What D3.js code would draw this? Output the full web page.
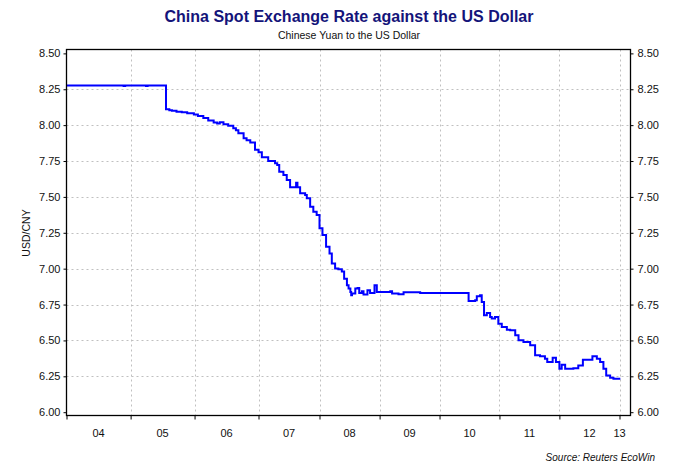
<html>
<head>
<script src="https://cdnjs.cloudflare.com/ajax/libs/d3/7.8.5/d3.min.js"></script>
<style>
body { margin: 0; background: #fff; }
svg { font-family: "Liberation Sans", Arial, sans-serif; }
</style>
</head>
<body>
<svg id="canvas" width="678" height="464"></svg>
<script>
// USD/CNY spot
var dates = [
  "2004-01-02","2004-11-20","2004-11-22","2004-12-01","2005-03-28","2005-03-30","2005-04-08","2005-07-21",
  "2005-07-22","2005-08-10","2005-08-25","2005-09-20","2005-10-20","2005-11-20","2005-12-28",
  "2006-01-20","2006-02-20","2006-03-20","2006-04-20","2006-05-10","2006-05-25","2006-06-15","2006-07-12",
  "2006-08-10","2006-08-25","2006-09-08","2006-10-08","2006-10-25","2006-11-15","2006-12-12",
  "2007-01-01","2007-01-21","2007-02-28","2007-04-10","2007-04-23","2007-05-05","2007-05-30","2007-06-19",
  "2007-07-09","2007-08-08","2007-08-14","2007-08-22","2007-09-07","2007-10-07","2007-10-17","2007-11-06",
  "2007-11-25","2007-12-15",
  "2008-01-01","2008-01-19","2008-02-10","2008-03-02","2008-03-16","2008-04-05","2008-04-25","2008-05-16",
  "2008-05-30","2008-06-16","2008-06-26","2008-07-07","2008-07-12","2008-07-17","2008-08-06","2008-08-20",
  "2008-08-30","2008-09-15","2008-09-25","2008-10-19","2008-11-04","2008-12-01","2008-12-15",
  "2009-01-05","2009-03-07","2009-03-18","2009-04-26","2009-05-27","2009-09-05",
  "2010-06-17","2010-06-27","2010-08-06","2010-08-16","2010-09-05","2010-09-15","2010-09-29","2010-10-16",
  "2010-11-05","2010-11-15","2010-12-05","2010-12-25",
  "2011-01-15","2011-02-15","2011-03-07","2011-04-07","2011-04-27","2011-05-27","2011-07-07","2011-08-06",
  "2011-09-05","2011-10-05","2011-10-19","2011-11-21","2011-12-11",
  "2012-01-01","2012-01-15","2012-02-05","2012-03-26","2012-04-25","2012-05-23","2012-06-26","2012-07-20",
  "2012-08-16","2012-09-05","2012-09-25","2012-10-12","2012-11-05","2012-11-25","2012-12-31"
];
var rates = [
  8.277,8.277,8.272,8.277,8.277,8.272,8.277,8.277,
  8.110,8.104,8.100,8.093,8.090,8.082,8.074,
  8.063,8.049,8.033,8.018,8.012,8.020,8.006,7.996,
  7.979,7.965,7.944,7.909,7.895,7.879,7.828,
  7.811,7.776,7.751,7.735,7.723,7.676,7.653,7.618,
  7.567,7.567,7.599,7.567,7.525,7.513,7.490,7.432,
  7.397,7.374,
  7.281,7.234,7.152,7.106,7.036,7.001,6.996,6.980,
  6.930,6.885,6.862,6.838,6.815,6.827,6.862,6.866,
  6.831,6.843,6.820,6.850,6.831,6.885,6.838,
  6.838,6.843,6.827,6.822,6.836,6.831,
  6.831,6.775,6.780,6.808,6.815,6.768,6.675,6.691,
  6.663,6.652,6.663,6.617,
  6.594,6.575,6.571,6.536,6.501,6.489,6.466,6.396,
  6.389,6.373,6.349,6.380,6.349,
  6.303,6.331,6.303,6.307,6.326,6.366,6.366,6.389,
  6.373,6.349,6.303,6.256,6.240,6.233,6.240
];
var yTicks = [6.00,6.25,6.50,6.75,7.00,7.25,7.50,7.75,8.00,8.25,8.50];
var years = [2004,2005,2006,2007,2008,2009,2010,2011,2012,2013];
var yearLabels = ["04","05","06","07","08","09","10","11","12","13"];

function draw() {
  var svg = d3.select("#canvas");
  var parse = d3.timeParse("%Y-%m-%d");
  var data = dates.map(function(d, i) { return { date: parse(d), v: rates[i] }; });

  var pl = 66.5, pr = 630.5, pt = 49.5, pb = 415.5;
  function yr(y) { return new Date(y, 0, 1); }

  // the source axis is not evenly spaced: early years are wider than later ones
  var x = d3.scaleTime()
      .domain([yr(2004), yr(2007), yr(2008), yr(2013), new Date(2013, 2, 10)])
      .range([pl, pl + 3 * 64, pl + 3 * 64 + 61, pl + 3 * 64 + 61 + 5 * 60, pr]);
  var y = d3.scaleLinear().domain([5.977, 8.527]).range([pb, pt]);

  // grid
  svg.append("g").selectAll("line")
      .data(yTicks.filter(function(t) { return t > 6 && t < 8.5; }))
      .enter().append("line")
      .attr("x1", pl).attr("x2", pr)
      .attr("y1", function(d) { return Math.round(y(d)) + 0.5; })
      .attr("y2", function(d) { return Math.round(y(d)) + 0.5; })
      .attr("stroke", "#c0c0c0").attr("stroke-dasharray", "2,3");
  svg.append("g").selectAll("line")
      .data(years.slice(1))
      .enter().append("line")
      .attr("x1", function(d) { return Math.round(x(yr(d))) + 0.5; })
      .attr("x2", function(d) { return Math.round(x(yr(d))) + 0.5; })
      .attr("y1", pt).attr("y2", pb)
      .attr("stroke", "#c0c0c0").attr("stroke-dasharray", "2,3");

  // series
  var line = d3.line()
      .x(function(d) { return x(d.date); })
      .y(function(d) { return y(d.v); })
      .curve(d3.curveStepAfter);
  svg.append("path").datum(data)
      .attr("d", line)
      .attr("fill", "none").attr("stroke", "#0000ff").attr("stroke-width", 2);

  // frame
  svg.append("rect")
      .attr("x", pl).attr("y", pt)
      .attr("width", pr - pl).attr("height", pb - pt)
      .attr("fill", "none").attr("stroke", "#000").attr("stroke-width", 1.3);

  // y axes, both sides
  var fmt = d3.format(".2f");
  var ya = svg.append("g").attr("transform", "translate(" + pl + ",0)")
      .call(d3.axisLeft(y).tickValues(yTicks).tickFormat(fmt).tickSize(3).tickPadding(3));
  var yb = svg.append("g").attr("transform", "translate(" + pr + ",0)")
      .call(d3.axisRight(y).tickValues(yTicks).tickFormat(fmt).tickSize(3).tickPadding(4));
  [ya, yb].forEach(function(g) {
    g.select(".domain").remove();
    g.attr("font-family", null).attr("font-size", null);
    g.selectAll("text").attr("font-size", 11).attr("fill", "#111");
    g.selectAll("line").attr("stroke", "#000");
  });

  // x axis: ticks at year starts, labels mid-year
  var xa = svg.append("g").attr("transform", "translate(0," + pb + ")")
      .call(d3.axisBottom(x).tickValues(years.map(yr)).tickFormat("").tickSize(4));
  xa.select(".domain").remove();
  xa.selectAll("line").attr("stroke", "#000");
  svg.append("g").selectAll("text")
      .data(years)
      .enter().append("text")
      .attr("x", function(d) {
        if (d === 2013) return x(yr(d));
        return (x(yr(d)) + x(yr(d + 1))) / 2;
      })
      .attr("y", 437)
      .attr("text-anchor", "middle")
      .attr("font-size", 11).attr("fill", "#111")
      .text(function(d, i) { return yearLabels[i]; });

  // titles
  svg.append("text").attr("x", 349).attr("y", 22).attr("text-anchor", "middle")
      .attr("font-size", 16).attr("font-weight", "bold").attr("fill", "#14147a")
      .text("China Spot Exchange Rate against the US Dollar");
  svg.append("text").attr("x", 349).attr("y", 39).attr("text-anchor", "middle")
      .attr("font-size", 10.5).attr("fill", "#111")
      .text("Chinese Yuan to the US Dollar");
  svg.append("text").attr("transform", "translate(30,233) rotate(-90)")
      .attr("text-anchor", "middle").attr("font-size", 10.5).attr("fill", "#111")
      .text("USD/CNY");
  svg.append("text").attr("x", 655).attr("y", 461).attr("text-anchor", "end")
      .attr("font-size", 10).attr("font-style", "italic").attr("fill", "#111")
      .text("Source: Reuters EcoWin");
}
draw();
</script>
</body>
</html>
